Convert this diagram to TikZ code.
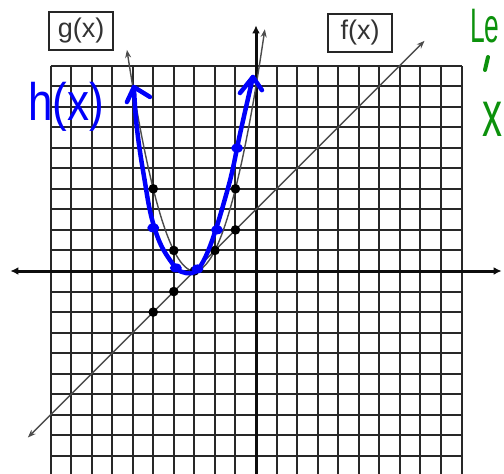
\documentclass[tikz,border=0pt]{standalone}
\usepackage{fontspec}
\setmainfont{Liberation Sans}
\usetikzlibrary{arrows.meta}
\definecolor{ink}{RGB}{0,0,250}
\definecolor{grn}{RGB}{12,145,12}
\definecolor{gridc}{RGB}{40,40,40}
\begin{document}
\begin{tikzpicture}[x=1pt,y=-1pt,
  gridline/.style={draw=gridc, line width=2pt},
  axisline/.style={draw=black!95, line width=3pt},
  graphline/.style={draw=black!70, line width=1.4pt, {Stealth[length=8pt,width=6pt]}-{Stealth[length=8pt,width=6pt]}},
  dotmark/.style={fill=black},
  hand/.style={draw=ink, line width=4.5pt, line cap=round, line join=round},
  labelbox/.style={draw=black!85, line width=2pt, minimum width=64pt, minimum height=38pt, inner sep=0pt, text=black!80, font=\fontsize{27}{27}\selectfont}
]
\fill[white] (0,0) rectangle (504,474);
\useasboundingbox (0,0) rectangle (504,474);
\begin{scope}[shift={(256pt,-271pt)}, x=20.55pt, y=20.55pt]
  % grid
  \foreach \i in {-10,...,10} {
    \draw[gridline] (\i,-10.5) -- (\i,10);
    \draw[gridline] (-10,\i) -- (10,\i);
  }
  % axes
  \draw[axisline, {Latex[length=8pt,width=8pt]}-{Latex[length=8pt,width=8pt]}] (-11.95,0) -- (11.95,0);
  \draw[axisline, -{Latex[length=8pt,width=8pt]}] (0,-10.6) -- (0,11.95);
  % f(x) = x + 3
  \draw[graphline] (-11.1,-8.1) -- (8.2,11.2);
  % g(x) = (x+3)^2
  \draw[graphline] plot[domain=-6.28:0.43, samples=60, smooth] (\x,{(\x+3)^2});
  % points
  \foreach \p in {(-5,4),(-4,1),(-3,0),(-2,1),(-1,4),(-1,2),(-4,-1),(-5,-2)}
    \fill[dotmark] \p circle (4.8pt);
  % hand-drawn h(x)
  \draw[hand] plot[smooth, tension=0.7] coordinates {
    (-5.94,8.95) (-5.8,7.0) (-5.45,4.6) (-5.0,2.3)
    (-4.3,0.7) (-3.4,-0.1) (-2.5,0.6)
    (-1.4,3.9) (-0.75,6.8) (-0.15,9.44)};
  \draw[hand] (-6.28,8.22) -- (-5.94,8.95) -- (-5.16,8.47);
  \draw[hand] (-0.78,8.66) -- (-0.15,9.44) -- (0.29,8.8);
  \foreach \p in {(-5.0,2.1),(-3.9,0.15),(-2.85,0.1),(-1.9,2.0),(-0.92,5.98)}
    \fill[ink] \p ellipse (6pt and 4.5pt);
\end{scope}
% labels
\node[labelbox] (g) at (81,31) {g(x)};
\node[labelbox] (f) at (360,32.5) {f(x)};
\node[text=ink, inner sep=0pt, font=\fontsize{44}{44}\selectfont] (h) at (66,107) {\scalebox{1}[1.2]{h(x)}};
% green notes (cut off at the right edge)
\node[text=grn, inner sep=0pt, anchor=base west, font=\fontsize{44}{44}\selectfont] (le) at (470,42) {\scalebox{0.6}[1.1]{Le}};
\draw[grn, line width=4pt, line cap=round] (488,57) -- (485,70);
\node[text=grn, inner sep=0pt, anchor=base west, font=\fontsize{50}{50}\selectfont] (xg) at (482,136) {\scalebox{0.8}[1.3]{x}};
\end{tikzpicture}
\end{document}
